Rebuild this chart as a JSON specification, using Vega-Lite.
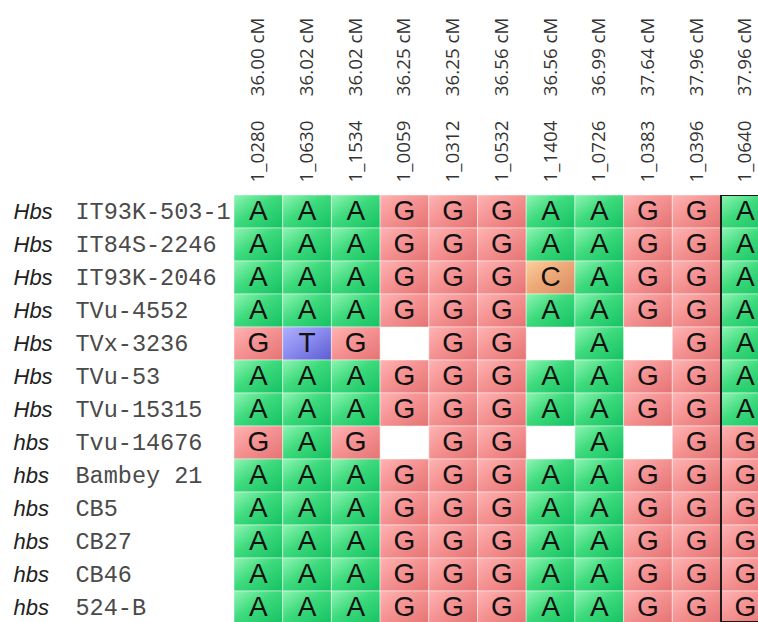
{
  "$schema": "https://vega.github.io/schema/vega-lite/v6.json",
  "autosize": {"type": "none"},
  "padding": {"left": 234, "top": 195, "right": 0, "bottom": 0},
  "width": 524,
  "height": 427,
  "background": "white",
  "config": {"view": {"stroke": null}},
  "data": {"values": [
    {"line":"Hbs IT93K-503-1","marker":"1_0280 36.00 cM","allele":"A"},
    {"line":"Hbs IT93K-503-1","marker":"1_0630 36.02 cM","allele":"A"},
    {"line":"Hbs IT93K-503-1","marker":"1_1534 36.02 cM","allele":"A"},
    {"line":"Hbs IT93K-503-1","marker":"1_0059 36.25 cM","allele":"G"},
    {"line":"Hbs IT93K-503-1","marker":"1_0312 36.25 cM","allele":"G"},
    {"line":"Hbs IT93K-503-1","marker":"1_0532 36.56 cM","allele":"G"},
    {"line":"Hbs IT93K-503-1","marker":"1_1404 36.56 cM","allele":"A"},
    {"line":"Hbs IT93K-503-1","marker":"1_0726 36.99 cM","allele":"A"},
    {"line":"Hbs IT93K-503-1","marker":"1_0383 37.64 cM","allele":"G"},
    {"line":"Hbs IT93K-503-1","marker":"1_0396 37.96 cM","allele":"G"},
    {"line":"Hbs IT93K-503-1","marker":"1_0640 37.96 cM","allele":"A"},

    {"line":"Hbs IT84S-2246","marker":"1_0280 36.00 cM","allele":"A"},
    {"line":"Hbs IT84S-2246","marker":"1_0630 36.02 cM","allele":"A"},
    {"line":"Hbs IT84S-2246","marker":"1_1534 36.02 cM","allele":"A"},
    {"line":"Hbs IT84S-2246","marker":"1_0059 36.25 cM","allele":"G"},
    {"line":"Hbs IT84S-2246","marker":"1_0312 36.25 cM","allele":"G"},
    {"line":"Hbs IT84S-2246","marker":"1_0532 36.56 cM","allele":"G"},
    {"line":"Hbs IT84S-2246","marker":"1_1404 36.56 cM","allele":"A"},
    {"line":"Hbs IT84S-2246","marker":"1_0726 36.99 cM","allele":"A"},
    {"line":"Hbs IT84S-2246","marker":"1_0383 37.64 cM","allele":"G"},
    {"line":"Hbs IT84S-2246","marker":"1_0396 37.96 cM","allele":"G"},
    {"line":"Hbs IT84S-2246","marker":"1_0640 37.96 cM","allele":"A"},

    {"line":"Hbs IT93K-2046","marker":"1_0280 36.00 cM","allele":"A"},
    {"line":"Hbs IT93K-2046","marker":"1_0630 36.02 cM","allele":"A"},
    {"line":"Hbs IT93K-2046","marker":"1_1534 36.02 cM","allele":"A"},
    {"line":"Hbs IT93K-2046","marker":"1_0059 36.25 cM","allele":"G"},
    {"line":"Hbs IT93K-2046","marker":"1_0312 36.25 cM","allele":"G"},
    {"line":"Hbs IT93K-2046","marker":"1_0532 36.56 cM","allele":"G"},
    {"line":"Hbs IT93K-2046","marker":"1_1404 36.56 cM","allele":"C"},
    {"line":"Hbs IT93K-2046","marker":"1_0726 36.99 cM","allele":"A"},
    {"line":"Hbs IT93K-2046","marker":"1_0383 37.64 cM","allele":"G"},
    {"line":"Hbs IT93K-2046","marker":"1_0396 37.96 cM","allele":"G"},
    {"line":"Hbs IT93K-2046","marker":"1_0640 37.96 cM","allele":"A"},

    {"line":"Hbs TVu-4552","marker":"1_0280 36.00 cM","allele":"A"},
    {"line":"Hbs TVu-4552","marker":"1_0630 36.02 cM","allele":"A"},
    {"line":"Hbs TVu-4552","marker":"1_1534 36.02 cM","allele":"A"},
    {"line":"Hbs TVu-4552","marker":"1_0059 36.25 cM","allele":"G"},
    {"line":"Hbs TVu-4552","marker":"1_0312 36.25 cM","allele":"G"},
    {"line":"Hbs TVu-4552","marker":"1_0532 36.56 cM","allele":"G"},
    {"line":"Hbs TVu-4552","marker":"1_1404 36.56 cM","allele":"A"},
    {"line":"Hbs TVu-4552","marker":"1_0726 36.99 cM","allele":"A"},
    {"line":"Hbs TVu-4552","marker":"1_0383 37.64 cM","allele":"G"},
    {"line":"Hbs TVu-4552","marker":"1_0396 37.96 cM","allele":"G"},
    {"line":"Hbs TVu-4552","marker":"1_0640 37.96 cM","allele":"A"},

    {"line":"Hbs TVx-3236","marker":"1_0280 36.00 cM","allele":"G"},
    {"line":"Hbs TVx-3236","marker":"1_0630 36.02 cM","allele":"T"},
    {"line":"Hbs TVx-3236","marker":"1_1534 36.02 cM","allele":"G"},
    {"line":"Hbs TVx-3236","marker":"1_0312 36.25 cM","allele":"G"},
    {"line":"Hbs TVx-3236","marker":"1_0532 36.56 cM","allele":"G"},
    {"line":"Hbs TVx-3236","marker":"1_0726 36.99 cM","allele":"A"},
    {"line":"Hbs TVx-3236","marker":"1_0396 37.96 cM","allele":"G"},
    {"line":"Hbs TVx-3236","marker":"1_0640 37.96 cM","allele":"A"},

    {"line":"Hbs TVu-53","marker":"1_0280 36.00 cM","allele":"A"},
    {"line":"Hbs TVu-53","marker":"1_0630 36.02 cM","allele":"A"},
    {"line":"Hbs TVu-53","marker":"1_1534 36.02 cM","allele":"A"},
    {"line":"Hbs TVu-53","marker":"1_0059 36.25 cM","allele":"G"},
    {"line":"Hbs TVu-53","marker":"1_0312 36.25 cM","allele":"G"},
    {"line":"Hbs TVu-53","marker":"1_0532 36.56 cM","allele":"G"},
    {"line":"Hbs TVu-53","marker":"1_1404 36.56 cM","allele":"A"},
    {"line":"Hbs TVu-53","marker":"1_0726 36.99 cM","allele":"A"},
    {"line":"Hbs TVu-53","marker":"1_0383 37.64 cM","allele":"G"},
    {"line":"Hbs TVu-53","marker":"1_0396 37.96 cM","allele":"G"},
    {"line":"Hbs TVu-53","marker":"1_0640 37.96 cM","allele":"A"},

    {"line":"Hbs TVu-15315","marker":"1_0280 36.00 cM","allele":"A"},
    {"line":"Hbs TVu-15315","marker":"1_0630 36.02 cM","allele":"A"},
    {"line":"Hbs TVu-15315","marker":"1_1534 36.02 cM","allele":"A"},
    {"line":"Hbs TVu-15315","marker":"1_0059 36.25 cM","allele":"G"},
    {"line":"Hbs TVu-15315","marker":"1_0312 36.25 cM","allele":"G"},
    {"line":"Hbs TVu-15315","marker":"1_0532 36.56 cM","allele":"G"},
    {"line":"Hbs TVu-15315","marker":"1_1404 36.56 cM","allele":"A"},
    {"line":"Hbs TVu-15315","marker":"1_0726 36.99 cM","allele":"A"},
    {"line":"Hbs TVu-15315","marker":"1_0383 37.64 cM","allele":"G"},
    {"line":"Hbs TVu-15315","marker":"1_0396 37.96 cM","allele":"G"},
    {"line":"Hbs TVu-15315","marker":"1_0640 37.96 cM","allele":"A"},

    {"line":"hbs Tvu-14676","marker":"1_0280 36.00 cM","allele":"G"},
    {"line":"hbs Tvu-14676","marker":"1_0630 36.02 cM","allele":"A"},
    {"line":"hbs Tvu-14676","marker":"1_1534 36.02 cM","allele":"G"},
    {"line":"hbs Tvu-14676","marker":"1_0312 36.25 cM","allele":"G"},
    {"line":"hbs Tvu-14676","marker":"1_0532 36.56 cM","allele":"G"},
    {"line":"hbs Tvu-14676","marker":"1_0726 36.99 cM","allele":"A"},
    {"line":"hbs Tvu-14676","marker":"1_0396 37.96 cM","allele":"G"},
    {"line":"hbs Tvu-14676","marker":"1_0640 37.96 cM","allele":"G"},

    {"line":"hbs Bambey 21","marker":"1_0280 36.00 cM","allele":"A"},
    {"line":"hbs Bambey 21","marker":"1_0630 36.02 cM","allele":"A"},
    {"line":"hbs Bambey 21","marker":"1_1534 36.02 cM","allele":"A"},
    {"line":"hbs Bambey 21","marker":"1_0059 36.25 cM","allele":"G"},
    {"line":"hbs Bambey 21","marker":"1_0312 36.25 cM","allele":"G"},
    {"line":"hbs Bambey 21","marker":"1_0532 36.56 cM","allele":"G"},
    {"line":"hbs Bambey 21","marker":"1_1404 36.56 cM","allele":"A"},
    {"line":"hbs Bambey 21","marker":"1_0726 36.99 cM","allele":"A"},
    {"line":"hbs Bambey 21","marker":"1_0383 37.64 cM","allele":"G"},
    {"line":"hbs Bambey 21","marker":"1_0396 37.96 cM","allele":"G"},
    {"line":"hbs Bambey 21","marker":"1_0640 37.96 cM","allele":"G"},

    {"line":"hbs CB5","marker":"1_0280 36.00 cM","allele":"A"},
    {"line":"hbs CB5","marker":"1_0630 36.02 cM","allele":"A"},
    {"line":"hbs CB5","marker":"1_1534 36.02 cM","allele":"A"},
    {"line":"hbs CB5","marker":"1_0059 36.25 cM","allele":"G"},
    {"line":"hbs CB5","marker":"1_0312 36.25 cM","allele":"G"},
    {"line":"hbs CB5","marker":"1_0532 36.56 cM","allele":"G"},
    {"line":"hbs CB5","marker":"1_1404 36.56 cM","allele":"A"},
    {"line":"hbs CB5","marker":"1_0726 36.99 cM","allele":"A"},
    {"line":"hbs CB5","marker":"1_0383 37.64 cM","allele":"G"},
    {"line":"hbs CB5","marker":"1_0396 37.96 cM","allele":"G"},
    {"line":"hbs CB5","marker":"1_0640 37.96 cM","allele":"G"},

    {"line":"hbs CB27","marker":"1_0280 36.00 cM","allele":"A"},
    {"line":"hbs CB27","marker":"1_0630 36.02 cM","allele":"A"},
    {"line":"hbs CB27","marker":"1_1534 36.02 cM","allele":"A"},
    {"line":"hbs CB27","marker":"1_0059 36.25 cM","allele":"G"},
    {"line":"hbs CB27","marker":"1_0312 36.25 cM","allele":"G"},
    {"line":"hbs CB27","marker":"1_0532 36.56 cM","allele":"G"},
    {"line":"hbs CB27","marker":"1_1404 36.56 cM","allele":"A"},
    {"line":"hbs CB27","marker":"1_0726 36.99 cM","allele":"A"},
    {"line":"hbs CB27","marker":"1_0383 37.64 cM","allele":"G"},
    {"line":"hbs CB27","marker":"1_0396 37.96 cM","allele":"G"},
    {"line":"hbs CB27","marker":"1_0640 37.96 cM","allele":"G"},

    {"line":"hbs CB46","marker":"1_0280 36.00 cM","allele":"A"},
    {"line":"hbs CB46","marker":"1_0630 36.02 cM","allele":"A"},
    {"line":"hbs CB46","marker":"1_1534 36.02 cM","allele":"A"},
    {"line":"hbs CB46","marker":"1_0059 36.25 cM","allele":"G"},
    {"line":"hbs CB46","marker":"1_0312 36.25 cM","allele":"G"},
    {"line":"hbs CB46","marker":"1_0532 36.56 cM","allele":"G"},
    {"line":"hbs CB46","marker":"1_1404 36.56 cM","allele":"A"},
    {"line":"hbs CB46","marker":"1_0726 36.99 cM","allele":"A"},
    {"line":"hbs CB46","marker":"1_0383 37.64 cM","allele":"G"},
    {"line":"hbs CB46","marker":"1_0396 37.96 cM","allele":"G"},
    {"line":"hbs CB46","marker":"1_0640 37.96 cM","allele":"G"},

    {"line":"hbs 524-B","marker":"1_0280 36.00 cM","allele":"A"},
    {"line":"hbs 524-B","marker":"1_0630 36.02 cM","allele":"A"},
    {"line":"hbs 524-B","marker":"1_1534 36.02 cM","allele":"A"},
    {"line":"hbs 524-B","marker":"1_0059 36.25 cM","allele":"G"},
    {"line":"hbs 524-B","marker":"1_0312 36.25 cM","allele":"G"},
    {"line":"hbs 524-B","marker":"1_0532 36.56 cM","allele":"G"},
    {"line":"hbs 524-B","marker":"1_1404 36.56 cM","allele":"A"},
    {"line":"hbs 524-B","marker":"1_0726 36.99 cM","allele":"A"},
    {"line":"hbs 524-B","marker":"1_0383 37.64 cM","allele":"G"},
    {"line":"hbs 524-B","marker":"1_0396 37.96 cM","allele":"G"},
    {"line":"hbs 524-B","marker":"1_0640 37.96 cM","allele":"G"}
  ]},
  "encoding": {
    "x": {
      "field": "marker", "type": "nominal", "sort": null,
      "scale": {
        "domain": ["1_0280 36.00 cM","1_0630 36.02 cM","1_1534 36.02 cM","1_0059 36.25 cM","1_0312 36.25 cM","1_0532 36.56 cM","1_1404 36.56 cM","1_0726 36.99 cM","1_0383 37.64 cM","1_0396 37.96 cM","1_0640 37.96 cM"],
        "range": [0, 535.7], "paddingInner": 0, "paddingOuter": 0
      },
      "axis": {
        "orient": "top", "title": null, "domain": false, "ticks": false, "tickSize": 0,
        "labelAngle": -90, "labelPadding": 13, "labelFont": "Open Sans", "labelFontSize": 18.8,
        "labelColor": "#333333", "labelLimit": 0,
        "labelExpr": "replace(datum.value, ' ', '\u00a0\u00a0\u00a0\u00a0\u00a0')"
      }
    }
  },
  "layer": [
    {
      "mark": {"type": "rect", "clip": true, "stroke": "#ffffff", "strokeOpacity": 0.45, "strokeWidth": 1},
      "encoding": {
        "y": {
          "field": "line", "type": "nominal", "sort": null,
          "scale": {"range": [0, 429], "paddingInner": 0, "paddingOuter": 0},
          "axis": {
            "orient": "left", "title": null, "domain": false, "ticks": false, "tickSize": 0,
            "labelAlign": "left", "labelPadding": 159, "labelExpr": "substring(datum.value, 4)",
            "labelFont": "Liberation Mono", "labelFontSize": 23.5, "labelColor": "#4a4a4a", "labelLimit": 0
          }
        },
        "fill": {
          "condition": [
            {"test": "datum.allele === 'A'", "value": {"gradient": "linear", "x1": 0, "y1": 0, "x2": 1, "y2": 1, "stops": [{"offset": 0, "color": "#8ef5b3"}, {"offset": 0.45, "color": "#3dda7c"}, {"offset": 1, "color": "#14c262"}]}},
            {"test": "datum.allele === 'G'", "value": {"gradient": "linear", "x1": 0, "y1": 0, "x2": 1, "y2": 1, "stops": [{"offset": 0, "color": "#ffb3b3"}, {"offset": 0.45, "color": "#f59393"}, {"offset": 1, "color": "#e57373"}]}},
            {"test": "datum.allele === 'C'", "value": {"gradient": "linear", "x1": 0, "y1": 0, "x2": 1, "y2": 1, "stops": [{"offset": 0, "color": "#fcd09c"}, {"offset": 0.45, "color": "#eeaa78"}, {"offset": 1, "color": "#d88c62"}]}}
          ],
          "value": {"gradient": "linear", "x1": 0, "y1": 0, "x2": 1, "y2": 1, "stops": [{"offset": 0, "color": "#b0b0ff"}, {"offset": 0.45, "color": "#8c8cf0"}, {"offset": 1, "color": "#5c5cd0"}]}
        }
      }
    },
    {
      "mark": {"type": "text", "clip": true, "font": "Liberation Sans", "fontSize": 28, "fill": "#111111", "baseline": "middle", "align": "center"},
      "encoding": {
        "y": {
          "field": "line", "type": "nominal", "sort": null,
          "scale": {"range": [0, 429], "paddingInner": 0, "paddingOuter": 0},
          "axis": {
            "orient": "left", "title": null, "domain": false, "ticks": false, "tickSize": 0,
            "labelAlign": "left", "labelPadding": 221, "labelExpr": "substring(datum.value, 0, 3)",
            "labelFont": "Liberation Sans", "labelFontStyle": "italic", "labelFontSize": 22, "labelColor": "#222222", "labelLimit": 0
          }
        },
        "text": {"field": "allele", "type": "nominal"}
      }
    },
    {
      "data": {"values": [{"marker": "1_0640 37.96 cM"}]},
      "mark": {"type": "rect", "clip": true, "filled": false, "stroke": "#1a1a1a", "strokeWidth": 2},
      "encoding": {}
    }
  ],
  "resolve": {"axis": {"y": "independent"}}
}
